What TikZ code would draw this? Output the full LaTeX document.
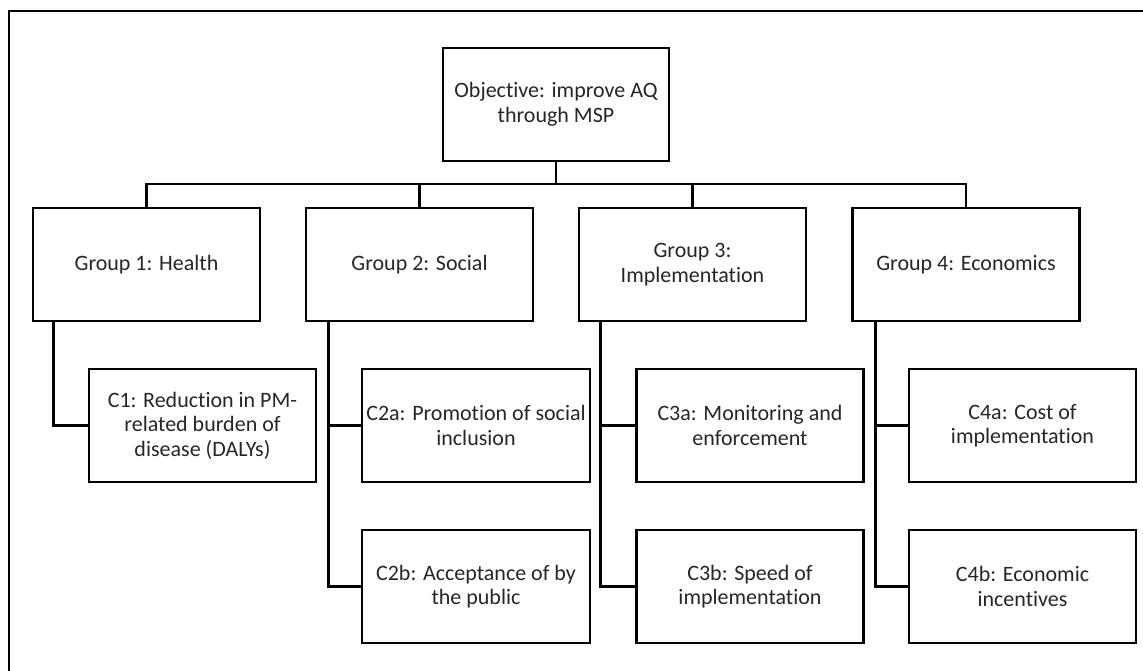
\documentclass[tikz,border=0pt]{standalone}
\usepackage{fontspec}
\setmainfont{Carlito}[Ligatures={NoCommon}]
\usetikzlibrary{calc}
\begin{document}
\begin{tikzpicture}[x=1pt,y=-1pt,
  box/.style={draw=black, line width=2.6pt, minimum width=227pt, minimum height=113pt,
    align=center, inner sep=2pt, text=black!85,
    font=\fontsize{22pt}{24.5pt}\selectfont},
  conn/.style={draw=black, line width=2.6pt},
  frame/.style={draw=black, line width=1.6pt}]
\useasboundingbox (0,0) rectangle (1143,671);
\draw[frame] (9,671) -- (9,11) -- (1143,11);

\node[box, minimum width=226pt] (obj) at (556,104.5) {Objective: improve AQ\\through MSP};

\node[box] (g1) at (146.5,264.5) {Group 1: Health};
\node[box] (g2) at (419.5,264.5) {Group 2: Social};
\node[box] (g3) at (692.5,264.5) {Group 3:\\Implementation};
\node[box] (g4) at (966,264.5) {Group 4: Economics};

\node[box] (c1) at (202.5,425.5) {C1: Reduction in PM-\\related burden of\\disease (DALYs)};
\node[box, minimum width=228pt] (c2a) at (476,425.5) {C2a: Promotion of social\\inclusion};
\node[box, minimum width=228pt] (c2b) at (476,586.5) {C2b: Acceptance of by\\the public};
\node[box] (c3a) at (750,425.5) {C3a: Monitoring and\\enforcement};
\node[box] (c3b) at (750,586.5) {C3b: Speed of\\implementation};
\node[box] (c4a) at (1022.5,425.5) {C4a: Cost of\\implementation};
\node[box] (c4b) at (1022.5,586.5) {C4b: Economic\\incentives};

\coordinate (bus) at (0,184);
\draw[conn] (obj.south) -- (obj.south |- bus);
\draw[conn] (g1.north) -- (g1.north |- bus) -- (g4.north |- bus) -- (g4.north);
\draw[conn] (g2.north) -- (g2.north |- bus);
\draw[conn] (g3.north) -- (g3.north |- bus);

\coordinate (d1) at ($(g1.south west)+(22,0)$);
\coordinate (d2) at ($(g2.south west)+(24,0)$);
\coordinate (d3) at ($(g3.south west)+(23,0)$);
\coordinate (d4) at ($(g4.south west)+(24,0)$);

\draw[conn] (d1) |- (c1.west);
\draw[conn] (d2) |- (c2b.west);
\draw[conn] (d2 |- c2a.west) -- (c2a.west);
\draw[conn] (d3) |- (c3b.west);
\draw[conn] (d3 |- c3a.west) -- (c3a.west);
\draw[conn] (d4) |- (c4b.west);
\draw[conn] (d4 |- c4a.west) -- (c4a.west);
\end{tikzpicture}
\end{document}
